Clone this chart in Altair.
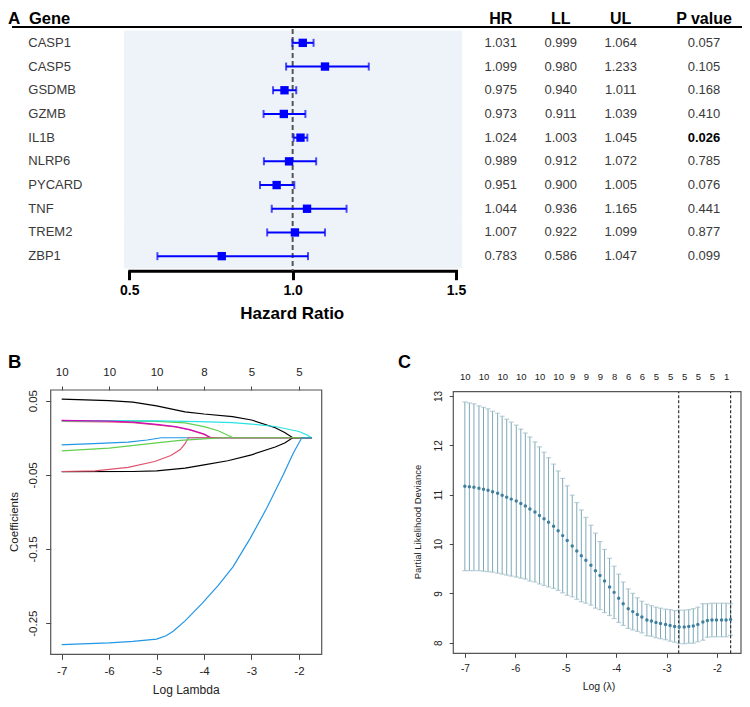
import altair as alt
import pandas as pd

OFF = 8
W, H = 734, 691
TXT = "Liberation Sans"
BLUE = "#0000FF"

# ---------------- Panel A : forest plot + table ----------------
GENES = ["CASP1", "CASP5", "GSDMB", "GZMB", "IL1B", "NLRP6", "PYCARD", "TNF", "TREM2", "ZBP1"]
HR = [1.031, 1.099, 0.975, 0.973, 1.024, 0.989, 0.951, 1.044, 1.007, 0.783]
LL = [0.999, 0.980, 0.940, 0.911, 1.003, 0.912, 0.900, 0.936, 0.922, 0.586]
UL = [1.064, 1.233, 1.011, 1.039, 1.045, 1.072, 1.005, 1.165, 1.099, 1.047]
PVAL = [0.057, 0.105, 0.168, 0.410, 0.026, 0.785, 0.076, 0.441, 0.877, 0.099]
TABLE_COLS = ["HR", "LL", "UL", "P value"]
HR_TICKS = [0.5, 1.0, 1.5]
HR_REF = [1.0]
HR_BG = [0.485, 1.517]

# ---------------- Panel B : coefficient paths ----------------
B_XLIM = [-7.232, -1.52]
B_YLIM = [-0.292, 0.0644]
B_XTICKS = [-7, -6, -5, -4, -3, -2]
B_YTICKS = [0.05, -0.05, -0.15, -0.25]
B_TOP_X = [-7, -6, -5, -4, -3, -2]
B_TOP_N = ["10", "10", "10", "8", "5", "5"]

B_X_BLACK_UP = [-7.0, -6.0, -5.5, -5.0, -4.7, -4.4, -4.0, -3.4, -3.0, -2.5, -2.3, -2.13, -1.73]
B_Y_BLACK_UP = [0.052, 0.050, 0.048, 0.043, 0.039, 0.035, 0.032, 0.0285, 0.024, 0.0135, 0.007, 0.0, 0.0]
B_X_RED_UP = [-7.0, -6.0, -5.5, -5.0, -4.6, -4.3, -4.0, -3.87, -1.73]
B_Y_RED_UP = [0.022, 0.0215, 0.0205, 0.0175, 0.0145, 0.0105, 0.0045, 0.0, 0.0]
B_X_GREEN_UP = [-7.0, -6.0, -5.0, -4.4, -4.0, -3.7, -3.39, -1.73]
B_Y_GREEN_UP = [0.0227, 0.0225, 0.022, 0.020, 0.015, 0.0095, 0.0, 0.0]
B_X_BLUE_SM = [-7.0, -6.2, -5.6, -5.2, -4.9, -1.73]
B_Y_BLUE_SM = [-0.0097, -0.0075, -0.006, -0.003, 0.0, 0.0]
B_X_CYAN = [-7.0, -5.0, -4.1, -3.4, -3.0, -2.5, -2.0, -1.85, -1.73]
B_Y_CYAN = [0.023, 0.0228, 0.0218, 0.0205, 0.0185, 0.0152, 0.0085, 0.0045, 0.0]
B_X_MAGENTA = [-7.0, -6.0, -5.5, -5.0, -4.6, -4.3, -4.0, -3.85, -1.73]
B_Y_MAGENTA = [0.0235, 0.0225, 0.021, 0.018, 0.015, 0.011, 0.005, 0.0, 0.0]
B_X_BLACK_DN = [-7.0, -5.5, -5.0, -4.4, -4.0, -3.5, -3.0, -2.5, -2.3, -2.13, -1.73]
B_Y_BLACK_DN = [-0.0456, -0.0455, -0.0446, -0.041, -0.0365, -0.031, -0.023, -0.0125, -0.007, 0.0, 0.0]
B_X_RED_DN = [-7.0, -6.3, -5.6, -5.04, -4.7, -4.5, -4.4, -4.33, -1.73]
B_Y_RED_DN = [-0.0455, -0.0446, -0.040, -0.032, -0.024, -0.016, -0.008, 0.0, 0.0]
B_X_GREEN_DN = [-7.0, -6.0, -5.0, -4.5, -4.0, -3.6, -1.73]
B_Y_GREEN_DN = [-0.0177, -0.014, -0.007, -0.0035, -0.0015, 0.0, 0.0]
B_X_BLUE_BIG = [-7.0, -6.0, -5.5, -5.0, -4.8, -4.65, -4.4, -4.05, -3.7, -3.39, -3.03, -2.68, -2.33, -2.12, -1.94, -1.73]
B_Y_BLUE_BIG = [-0.279, -0.2765, -0.2745, -0.2715, -0.267, -0.261, -0.247, -0.224, -0.199, -0.174, -0.136, -0.095, -0.050, -0.021, 0.0, 0.0]

B_SERIES = [
    (B_X_BLACK_UP, B_Y_BLACK_UP, "#000000"),
    (B_X_RED_UP, B_Y_RED_UP, "#DF536B"),
    (B_X_GREEN_UP, B_Y_GREEN_UP, "#61D04F"),
    (B_X_BLUE_SM, B_Y_BLUE_SM, "#2297E6"),
    (B_X_CYAN, B_Y_CYAN, "#28E2E5"),
    (B_X_MAGENTA, B_Y_MAGENTA, "#CD0BBC"),
    (B_X_BLACK_DN, B_Y_BLACK_DN, "#000000"),
    (B_X_RED_DN, B_Y_RED_DN, "#DF536B"),
    (B_X_GREEN_DN, B_Y_GREEN_DN, "#61D04F"),
    (B_X_BLUE_BIG, B_Y_BLUE_BIG, "#2297E6"),
]

# ---------------- Panel C : cross-validation curve ----------------
C_XLIM = [-7.229, -1.524]
C_YLIM = [7.785, 13.087]
C_XTICKS = [-7, -6, -5, -4, -3, -2]
C_YTICKS = [8, 9, 10, 11, 12, 13]
C_LOGLAM = [-7.00, -6.91, -6.82, -6.72, -6.63, -6.54, -6.45, -6.35, -6.26, -6.17,
            -6.08, -5.98, -5.89, -5.80, -5.71, -5.61, -5.52, -5.43, -5.34, -5.24,
            -5.15, -5.06, -4.97, -4.87, -4.78, -4.69, -4.60, -4.50, -4.41, -4.32,
            -4.23, -4.13, -4.04, -3.95, -3.86, -3.76, -3.67, -3.58, -3.49, -3.39,
            -3.30, -3.21, -3.12, -3.02, -2.93, -2.84, -2.75, -2.65, -2.56, -2.47,
            -2.38, -2.28, -2.19, -2.10, -2.01, -1.91, -1.82, -1.73]
C_MEAN = [11.17, 11.16, 11.15, 11.13, 11.11, 11.09, 11.06, 11.03, 10.99, 10.95,
          10.91, 10.87, 10.82, 10.77, 10.71, 10.65, 10.58, 10.51, 10.44, 10.36,
          10.27, 10.17, 10.07, 9.96, 9.86, 9.76, 9.67, 9.57, 9.46, 9.36,
          9.25, 9.13, 9.02, 8.90, 8.79, 8.69, 8.63, 8.57, 8.52, 8.46,
          8.44, 8.41, 8.39, 8.37, 8.35, 8.33, 8.32, 8.32, 8.33, 8.34,
          8.37, 8.42, 8.45, 8.46, 8.46, 8.46, 8.46, 8.47]
C_SD = [1.71, 1.70, 1.69, 1.67, 1.66, 1.65, 1.63, 1.62, 1.60, 1.58,
        1.56, 1.54, 1.51, 1.48, 1.46, 1.42, 1.39, 1.35, 1.31, 1.26,
        1.21, 1.16, 1.11, 1.03, 0.98, 0.93, 0.87, 0.81, 0.76, 0.69,
        0.64, 0.58, 0.53, 0.49, 0.44, 0.40, 0.37, 0.34, 0.32, 0.32,
        0.31, 0.31, 0.31, 0.31, 0.32, 0.32, 0.34, 0.34, 0.34, 0.35,
        0.35, 0.37, 0.34, 0.34, 0.34, 0.34, 0.34, 0.32]
C_VLINES = [-2.76, -1.73]
C_TOP_X = [-7.00, -6.63, -6.26, -5.89, -5.52, -5.15, -4.87, -4.60, -4.32,
           -4.04, -3.76, -3.49, -3.21, -2.93, -2.65, -2.38, -2.10, -1.82]
C_TOP_N = ["10", "10", "10", "10", "10", "10", "9", "9", "9",
           "8", "6", "6", "5", "5", "5", "5", "5", "1"]


# ---------------- helpers ----------------
def sc(domain, rng):
    return alt.Scale(domain=list(domain), range=[r - OFF for r in rng], nice=False, zero=False)


def note(txt, x, y, size, weight="normal", angle=0, align="center", baseline="middle", color="black"):
    return alt.Chart(pd.DataFrame({"t": [txt]})).mark_text(
        font=TXT, fontSize=size, fontWeight=weight, angle=angle, align=align,
        baseline=baseline, color=color
    ).encode(text="t:N", x=alt.value(x - OFF), y=alt.value(y - OFF))


def axis(orient, offset, values, **kw):
    base = dict(orient=orient, offset=offset, values=list(values), title=None, grid=False,
                labelFont=TXT, labelFlush=False, labelOverlap=False, labelBound=False)
    base.update(kw)
    return alt.Axis(**base)


def lookup_expr(xs, labs):
    e = "''"
    for v, l in reversed(list(zip(xs, labs))):
        e = f"datum.value == {v} ? '{l}' : ({e})"
    return e


layers = []

# ================= Panel A =================
A_X = sc([0.5, 1.5], [129.3, 456.0])
A_Y = alt.Scale(type="band", domain=GENES, range=[31 - OFF, 268 - OFF], paddingInner=0, paddingOuter=0)
forest = pd.DataFrame({"gene": GENES, "hr": HR, "ll": LL, "ul": UL,
                       "lo": [HR_BG[0]] * len(GENES), "hi": [HR_BG[1]] * len(GENES)})

layers.append(alt.Chart(forest).mark_rect(color="#EEF3F9", stroke="#EEF3F9", strokeWidth=0.8).encode(
    x=alt.X("lo:Q", scale=A_X, axis=None), x2="hi:Q",
    y=alt.Y("gene:N", scale=A_Y, axis=None)))

layers.append(alt.Chart(pd.DataFrame({"v": HR_REF})).mark_rule(
    color="#555555", strokeWidth=2, strokeDash=[5, 3]).encode(
    x=alt.X("v:Q", scale=A_X, axis=None), y=alt.value(29 - OFF), y2=alt.value(270.7 - OFF)))

a_axis = axis("bottom", (270.7 - OFF) - H, HR_TICKS, labelExpr="format(datum.value, '.1f')",
              domainColor="black", domainWidth=3, domainCap="square", tickColor="black",
              tickWidth=3, tickSize=9, labelFontSize=14, labelFontWeight="bold",
              labelColor="black", labelPadding=4)
layers.append(alt.Chart(forest).mark_rule(color=BLUE, strokeWidth=2).encode(
    x=alt.X("ll:Q", scale=A_X, axis=a_axis), x2="ul:Q",
    y=alt.Y("gene:N", scale=A_Y, axis=None)))
for fld in ["ll", "ul"]:
    layers.append(alt.Chart(forest).mark_tick(color=BLUE, orient="vertical", size=8, thickness=2).encode(
        x=alt.X(f"{fld}:Q", scale=A_X, axis=None),
        y=alt.Y("gene:N", scale=A_Y, axis=None)))
layers.append(alt.Chart(forest).mark_square(color=BLUE, size=70, opacity=1).encode(
    x=alt.X("hr:Q", scale=A_X, axis=None),
    y=alt.Y("gene:N", scale=A_Y, axis=None)))

# table
T_X = alt.Scale(type="point", domain=TABLE_COLS, range=[500.7 - OFF, 680.7 - OFF], padding=0)
rows = []
for g, h, l, u in zip(GENES, HR, LL, UL):
    rows += [{"gene": g, "col": "HR", "txt": f"{h:.3f}"},
             {"gene": g, "col": "LL", "txt": f"{l:.3f}"},
             {"gene": g, "col": "UL", "txt": f"{u:.3f}"}]
tab = pd.DataFrame(rows)
pdf = pd.DataFrame({"gene": GENES, "col": ["P value"] * len(GENES),
                    "txt": [f"{p:.3f}" for p in PVAL], "sig": [p < 0.05 for p in PVAL]})
PDX = 704 - 680.7

layers.append(alt.Chart(tab).mark_text(font=TXT, fontSize=13, color="#3a3a3a").encode(
    x=alt.X("col:N", scale=T_X, axis=None), y=alt.Y("gene:N", scale=A_Y, axis=None), text="txt:N"))
layers.append(alt.Chart(pdf[~pdf["sig"]]).mark_text(font=TXT, fontSize=13, color="#3a3a3a", dx=PDX).encode(
    x=alt.X("col:N", scale=T_X, axis=None), y=alt.Y("gene:N", scale=A_Y, axis=None), text="txt:N"))
layers.append(alt.Chart(pdf[pdf["sig"]]).mark_text(font=TXT, fontSize=13, color="black",
                                                   fontWeight="bold", dx=PDX).encode(
    x=alt.X("col:N", scale=T_X, axis=None), y=alt.Y("gene:N", scale=A_Y, axis=None), text="txt:N"))

HDR_Y = 16
hdr = pd.DataFrame({"col": TABLE_COLS[:3]})
layers.append(alt.Chart(hdr).mark_text(font=TXT, fontSize=16, fontWeight="bold", color="black",
                                       baseline="alphabetic").encode(
    x=alt.X("col:N", scale=T_X, axis=None), y=alt.value(HDR_Y), text="col:N"))
layers.append(alt.Chart(pd.DataFrame({"col": TABLE_COLS[3:]})).mark_text(
    font=TXT, fontSize=16, fontWeight="bold", color="black", baseline="alphabetic", dx=PDX).encode(
    x=alt.X("col:N", scale=T_X, axis=None), y=alt.value(HDR_Y), text="col:N"))

layers.append(alt.Chart(pd.DataFrame({"a": [0]})).mark_rule(color="black", strokeWidth=2).encode(
    x=alt.value(4), x2=alt.value(W), y=alt.value(HDR_Y + 3)))
layers.append(note("A", 8, HDR_Y + OFF, 17, weight="bold", align="left", baseline="alphabetic"))
layers.append(note("Gene", 29, HDR_Y + OFF, 16.5, weight="bold", align="left", baseline="alphabetic"))
gene_lab = pd.DataFrame({"gene": GENES})
layers.append(alt.Chart(gene_lab).mark_text(font=TXT, fontSize=13, color="#3a3a3a", align="left").encode(
    x=alt.value(28.3 - OFF), y=alt.Y("gene:N", scale=A_Y, axis=None), text="gene:N"))
layers.append(note("Hazard Ratio", 292.3, 314, 17, weight="bold"))

# ================= Panel B =================
B_XS = sc(B_XLIM, [50.7, 321.7])
B_YS = sc(B_YLIM, [654.3, 390.0])
b_xaxis = axis("bottom", (654.3 - OFF) - H, B_XTICKS, labelExpr="toString(datum.value)",
               domain=False, tickColor="#444", tickSize=5, labelFontSize=11.5,
               labelColor="#222", labelPadding=6)
b_yaxis = axis("left", -(50.7 - OFF), B_YTICKS, labelExpr="toString(datum.value)",
               domain=False, tickColor="#444", tickSize=5, labelFontSize=11.5,
               labelColor="#222", labelPadding=7, labelAngle=270, labelAlign="center",
               labelBaseline="bottom")
b_top = axis("top", -(390.0 - OFF), B_TOP_X, labelExpr=lookup_expr(B_TOP_X, B_TOP_N),
             domain=False, tickColor="#444", tickSize=4, labelFontSize=11.5,
             labelColor="#222", labelPadding=9)

bbox = pd.DataFrame({"x0": [B_XLIM[0]], "x1": [B_XLIM[1]], "y0": [B_YLIM[0]], "y1": [B_YLIM[1]]})
layers.append(alt.Chart(bbox).mark_rect(fillOpacity=0, stroke="#555555", strokeWidth=1.2).encode(
    x=alt.X("x0:Q", scale=B_XS, axis=b_xaxis), x2="x1:Q",
    y=alt.Y("y0:Q", scale=B_YS, axis=b_yaxis), y2="y1:Q"))
layers.append(alt.Chart(pd.DataFrame({"x": B_TOP_X})).mark_point(opacity=0).encode(
    x=alt.X("x:Q", scale=B_XS, axis=b_top), y=alt.value(0)))

for xs, ys, col in B_SERIES:
    layers.append(alt.Chart(pd.DataFrame({"x": xs, "y": ys})).mark_line(
        color=col, strokeWidth=1.2, interpolate="linear").encode(
        x=alt.X("x:Q", scale=B_XS, axis=None), y=alt.Y("y:Q", scale=B_YS, axis=None)))

layers.append(note("B", 8, 368, 18.5, weight="bold", align="left", baseline="alphabetic"))
layers.append(note("Log Lambda", 186.2, 690, 12, color="#222"))
layers.append(note("Coefficients", 14.5, 522, 11.5, angle=270, color="#222"))

# ================= Panel C =================
C_XS = sc(C_XLIM, [453.3, 741.0])
C_YS = sc(C_YLIM, [653.3, 391.7])
c_xaxis = axis("bottom", (653.3 - OFF) - H, C_XTICKS, labelExpr="toString(datum.value)",
               domain=False, tickColor="#444", tickSize=4, labelFontSize=10,
               labelColor="#222", labelPadding=6)
c_yaxis = axis("left", -(453.3 - OFF), C_YTICKS, labelExpr="toString(datum.value)",
               domain=False, tickColor="#444", tickSize=4, labelFontSize=10,
               labelColor="#222", labelPadding=6, labelAngle=270, labelAlign="center",
               labelBaseline="bottom")
c_top = axis("top", -(391.7 - OFF), C_TOP_X, labelExpr=lookup_expr(C_TOP_X, C_TOP_N),
             domain=False, ticks=False, tickSize=0, labelFontSize=9.5,
             labelColor="#222", labelPadding=10)

cbox = pd.DataFrame({"x0": [C_XLIM[0]], "x1": [C_XLIM[1]], "y0": [C_YLIM[0]], "y1": [C_YLIM[1]]})
layers.append(alt.Chart(cbox).mark_rect(fillOpacity=0, stroke="#555555", strokeWidth=1.2).encode(
    x=alt.X("x0:Q", scale=C_XS, axis=c_xaxis), x2="x1:Q",
    y=alt.Y("y0:Q", scale=C_YS, axis=c_yaxis), y2="y1:Q"))
layers.append(alt.Chart(pd.DataFrame({"x": C_TOP_X})).mark_point(opacity=0).encode(
    x=alt.X("x:Q", scale=C_XS, axis=c_top), y=alt.value(0)))

cv = pd.DataFrame({"x": C_LOGLAM, "m": C_MEAN,
                   "lo": [m - s for m, s in zip(C_MEAN, C_SD)],
                   "hi": [m + s for m, s in zip(C_MEAN, C_SD)]})
layers.append(alt.Chart(cv).mark_rule(color="#7FA8B7", strokeWidth=1).encode(
    x=alt.X("x:Q", scale=C_XS, axis=None), y=alt.Y("lo:Q", scale=C_YS, axis=None), y2="hi:Q"))
for fld in ["lo", "hi"]:
    layers.append(alt.Chart(cv).mark_tick(color="#9DBDC8", orient="horizontal", size=5, thickness=1.2).encode(
        x=alt.X("x:Q", scale=C_XS, axis=None), y=alt.Y(f"{fld}:Q", scale=C_YS, axis=None)))
vl = pd.DataFrame({"x": C_VLINES, "y0": [C_YLIM[0]] * 2, "y1": [C_YLIM[1]] * 2})
layers.append(alt.Chart(vl).mark_rule(color="#333333", strokeWidth=1.2, strokeDash=[3, 2]).encode(
    x=alt.X("x:Q", scale=C_XS, axis=None), y=alt.Y("y0:Q", scale=C_YS, axis=None), y2="y1:Q"))
layers.append(alt.Chart(cv).mark_circle(color="#3F809F", size=12, opacity=1).encode(
    x=alt.X("x:Q", scale=C_XS, axis=None), y=alt.Y("m:Q", scale=C_YS, axis=None)))

layers.append(note("C", 398, 368, 18, weight="bold", align="left", baseline="alphabetic"))
layers.append(note("Log (\u03bb)", 599, 687, 10.5, color="#222"))
layers.append(note("Partial Likelihood Deviance", 418, 522, 9.5, angle=270, color="#222"))

chart = alt.layer(*layers).resolve_scale(
    x="independent", y="independent"
).resolve_axis(
    x="independent", y="independent"
).properties(
    width=W, height=H, padding=0, autosize=alt.AutoSizeParams(type="none")
).configure_view(stroke=None)

chart.save("out.html", embed_options={"renderer": "svg", "actions": False})
